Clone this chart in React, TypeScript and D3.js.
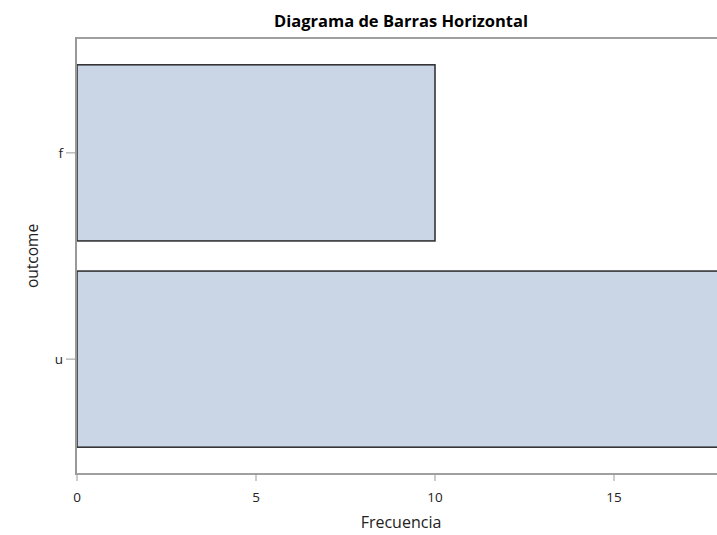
import React from "react";
import * as d3 from "d3";

const categories = ["f", "u"];
const counts = [10, 18];
const xTicks = [0, 5, 10, 15];
const title = "Diagrama de Barras Horizontal";
const xLabel = "Frecuencia";
const yLabel = "outcome";

export default function App() {
  const W = 717, H = 535;
  const left = 77, right = 721.4, top = 38, bottom = 474;
  const x = d3.scaleLinear().domain([0, 18]).range([left, right]);
  const y = d3.scaleBand().domain(categories).range([top, bottom]).paddingInner(0.146).paddingOuter(0.13);
  const font = "'Open Sans', 'Noto Sans', sans-serif";
  return (
    <svg width={W} height={H} style={{ position: "absolute", left: 0, top: 0, display: "block" }} fontFamily={font}>
      <rect x={0} y={0} width={W} height={H} fill="#fff" />
      <text x={401} y={27} textAnchor="middle" fontWeight="bold" fontSize={16.5} fill="#000">{title}</text>
      {categories.map((c, i) => (
        <rect key={c} x={x(0)} y={y(c)} width={x(counts[i]) - x(0)} height={y.bandwidth()} fill="#cad6e6" stroke="#2a2a2a" strokeWidth={1.5} />
      ))}
      {/* frame */}
      <line x1={left - 1} x2={W} y1={top} y2={top} stroke="#a0a0a0" strokeWidth={2} />
      <line x1={left - 1} x2={left - 1} y1={top - 1} y2={bottom + 1} stroke="#999" strokeWidth={2} />
      <line x1={left - 1} x2={W} y1={bottom} y2={bottom} stroke="#a0a0a0" strokeWidth={2} />
      {xTicks.map((t) => (
        <g key={t}>
          <line x1={x(t)} x2={x(t)} y1={bottom} y2={bottom + 7} stroke="#999" strokeWidth={1} />
          <text x={x(t)} y={502} textAnchor="middle" fontSize={13.5} fill="#222">{t}</text>
        </g>
      ))}
      {categories.map((c) => {
        const cy = (y(c) as number) + y.bandwidth() / 2;
        return (
          <g key={c}>
            <line x1={left - 11} x2={left - 2} y1={cy} y2={cy} stroke="#999" strokeWidth={1} />
            <text x={left - 14} y={cy + 5} textAnchor="end" fontSize={13.5} fill="#222">{c}</text>
          </g>
        );
      })}
      <text x={401} y={528} textAnchor="middle" fontSize={16} fill="#222">{xLabel}</text>
      <text transform={`translate(38, ${(top + bottom) / 2}) rotate(-90)`} textAnchor="middle" fontSize={15.5} fill="#222">{yLabel}</text>
    </svg>
  );
}
